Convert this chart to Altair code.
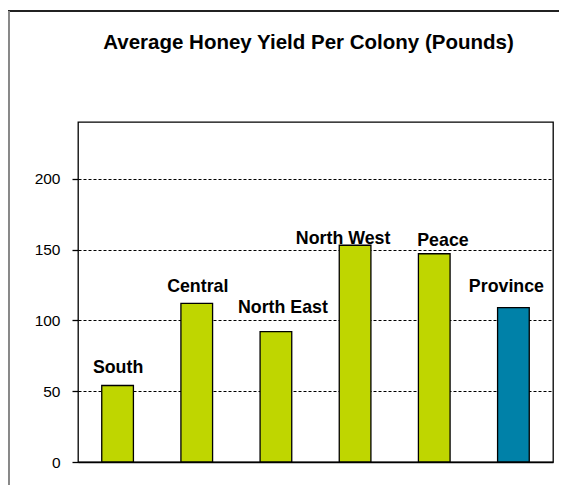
import altair as alt
import pandas as pd

regions = ["South", "Central", "North East", "North West", "Peace", "Province"]
yields = [54, 112, 92, 153, 147, 109]
bar_colors = ["#BFD600", "#BFD600", "#BFD600", "#BFD600", "#BFD600", "#0081A8"]
y_ticks = [0, 50, 100, 150, 200]
title_text = "Average Honey Yield Per Colony (Pounds)"

df = pd.DataFrame({"region": regions, "yield": yields, "color": bar_colors})

FONT = "Liberation Sans"

# per-label nudges (pixels) of the category labels placed above each bar
label_nudge = {
    "South": (0.5, -12.7),
    "Central": (1, -11.6),
    "North East": (7, -19),
    "North West": (-12, -1.7),
    "Peace": (8.7, -7.3),
    "Province": (-7, -15.6),
}

x_enc = alt.X("region:N", sort=regions,
              scale=alt.Scale(paddingInner=0.6, paddingOuter=0.3),
              axis=alt.Axis(labels=False, ticks=False, title=None, domain=True,
                            domainColor="black", domainWidth=1.3))
y_enc = alt.Y("yield:Q", scale=alt.Scale(domain=[0, 240], nice=False),
              axis=alt.Axis(values=y_ticks, title=None, grid=True, gridColor="black",
                            gridDash=[3, 2], gridWidth=1, gridOpacity=1,
                            domain=False, tickColor="black", tickSize=6, tickWidth=1.3,
                            labelFont=FONT, labelFontSize=15.5, labelColor="black",
                            labelPadding=12))

bars = alt.Chart(df).mark_bar(stroke="black", strokeWidth=1.3).encode(
    x=x_enc, y=y_enc, color=alt.Color("color:N", scale=None)
)

label_layers = []
for r in regions:
    ddx, ddy = label_nudge[r]
    label_layers.append(
        alt.Chart(df).transform_filter(alt.datum.region == r).mark_text(
            font=FONT, fontSize=17.8, fontWeight="bold", color="black",
            baseline="alphabetic", dx=ddx, dy=ddy
        ).encode(x=alt.X("region:N", sort=regions), y="yield:Q", text="region:N")
    )

# decorative outer frame (top and left edges of the chart box)
frame_top = alt.Chart(df).mark_rule(stroke="#222222", strokeWidth=1.5).encode(
    x=alt.value(-70), x2=alt.value(560), y=alt.value(-111)
)
frame_left = alt.Chart(df).mark_rule(stroke="#888888", strokeWidth=1.5).encode(
    x=alt.value(-69.3), y=alt.value(-111), y2=alt.value(600)
)

chart = alt.layer(frame_top, frame_left, bars, *label_layers).properties(
    width=475, height=340,
    padding={"left": 70, "top": 114, "right": 6, "bottom": 23},
    autosize=alt.AutoSizeParams(type="none"),
    title=alt.TitleParams(title_text, font=FONT, fontSize=20.5, fontWeight="bold",
                          color="black", anchor="middle", baseline="alphabetic",
                          dx=-7, dy=59, offset=0),
).configure(background="white").configure_view(stroke="black", strokeWidth=1.3)

chart.save("out.html", embed_options={"renderer": "svg", "actions": False})
